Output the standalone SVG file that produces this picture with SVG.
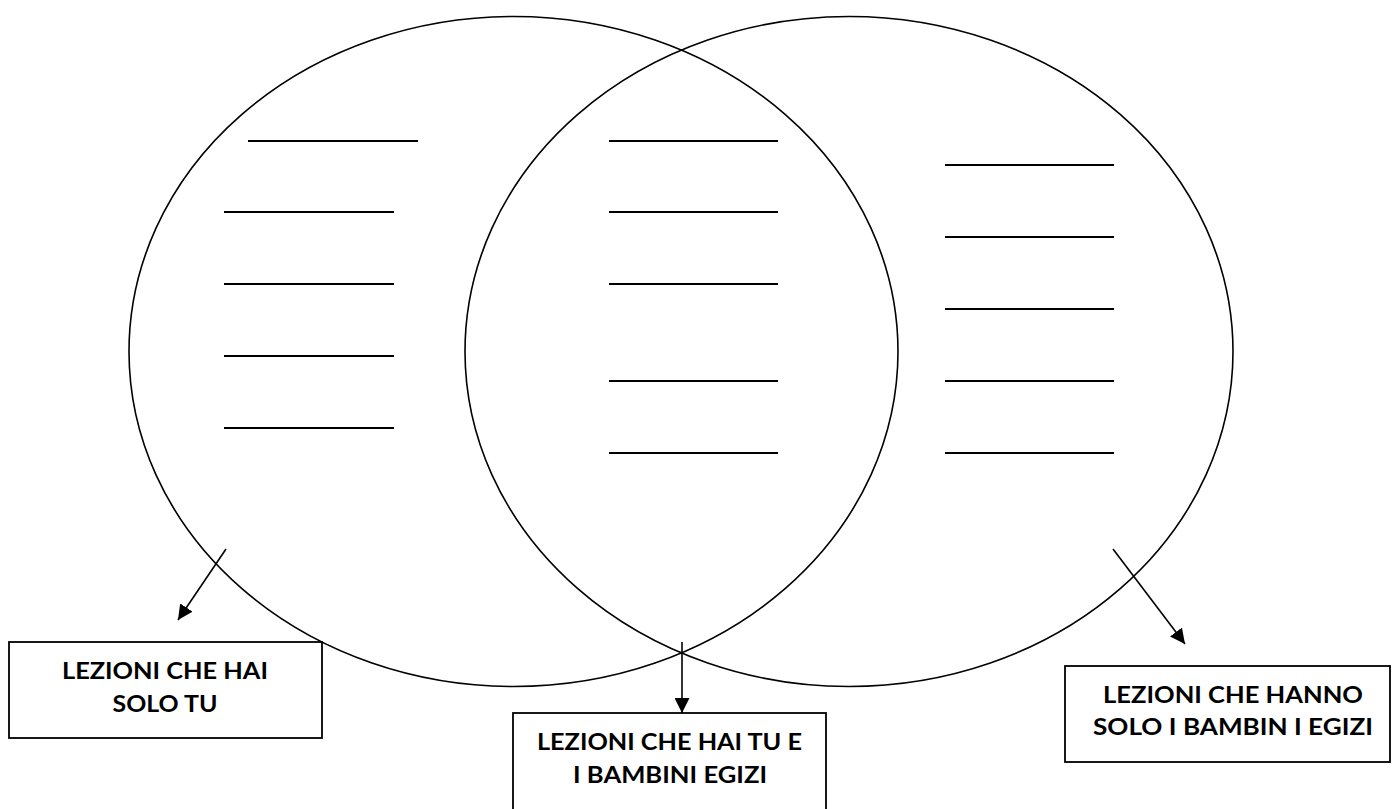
<svg xmlns="http://www.w3.org/2000/svg" width="1392" height="809" viewBox="0 0 1392 809">
<style>
.ell{fill:none;stroke:#000;stroke-width:1.6}
.ln{stroke:#000;stroke-width:1.8}
.box{fill:#fff;stroke:#000;stroke-width:1.8}
.con{stroke:#000;stroke-width:1.6;fill:none}
.t{font-family:Lato,"Liberation Sans",sans-serif;font-weight:700;font-size:23px;fill:#000;text-anchor:middle}
</style>
<defs>
<marker id="ah2" viewBox="0 0 14 14" refX="14" refY="7" markerWidth="15" markerHeight="15" markerUnits="userSpaceOnUse" orient="auto">
<path d="M0,0 L14,7 L0,14 z" fill="#000"/>
</marker>
</defs>
<rect width="1392" height="809" fill="#fff"/>
<g id="left-circle"><ellipse class="ell" cx="513.5" cy="351.5" rx="384.5" ry="335"/></g>
<g id="right-circle"><ellipse class="ell" cx="849" cy="351.5" rx="384" ry="335"/></g>
<g id="left-lines">
<line class="ln" x1="248" y1="141" x2="418" y2="141"/>
<line class="ln" x1="224" y1="212" x2="394" y2="212"/>
<line class="ln" x1="224" y1="284" x2="394" y2="284"/>
<line class="ln" x1="224" y1="356" x2="394" y2="356"/>
<line class="ln" x1="224" y1="428" x2="394" y2="428"/>
</g>
<g id="middle-lines">
<line class="ln" x1="609" y1="141" x2="778" y2="141"/>
<line class="ln" x1="609" y1="212" x2="778" y2="212"/>
<line class="ln" x1="609" y1="284" x2="778" y2="284"/>
<line class="ln" x1="609" y1="381" x2="778" y2="381"/>
<line class="ln" x1="609" y1="453" x2="778" y2="453"/>
</g>
<g id="right-lines">
<line class="ln" x1="945" y1="165" x2="1114" y2="165"/>
<line class="ln" x1="945" y1="237" x2="1114" y2="237"/>
<line class="ln" x1="945" y1="309" x2="1114" y2="309"/>
<line class="ln" x1="945" y1="381" x2="1114" y2="381"/>
<line class="ln" x1="945" y1="453" x2="1114" y2="453"/>
</g>
<g id="connectors">
<line class="con" x1="226" y1="549" x2="178" y2="620" marker-end="url(#ah2)"/>
<line class="con" x1="682" y1="642" x2="682" y2="713" marker-end="url(#ah2)"/>
<line class="con" x1="1113" y1="549" x2="1185" y2="644" marker-end="url(#ah2)"/>
</g>
<g id="box-left">
<rect class="box" x="9" y="642" width="313" height="96"/>
<text class="t" x="165" y="679" textLength="206" lengthAdjust="spacingAndGlyphs">LEZIONI CHE HAI</text>
<text class="t" x="165" y="712" textLength="105" lengthAdjust="spacingAndGlyphs">SOLO TU</text>
</g>
<g id="box-middle">
<rect class="box" x="513" y="713" width="313" height="100"/>
<text class="t" x="669.5" y="750" textLength="265" lengthAdjust="spacingAndGlyphs">LEZIONI CHE HAI TU E</text>
<text class="t" x="670" y="783" textLength="194" lengthAdjust="spacingAndGlyphs">I BAMBINI EGIZI</text>
</g>
<g id="box-right">
<rect class="box" x="1065" y="666" width="325" height="96"/>
<text class="t" x="1233" y="703" textLength="260" lengthAdjust="spacingAndGlyphs">LEZIONI CHE HANNO</text>
<text class="t" x="1233" y="735" textLength="280" lengthAdjust="spacingAndGlyphs">SOLO I BAMBIN I EGIZI</text>
</g>
</svg>
